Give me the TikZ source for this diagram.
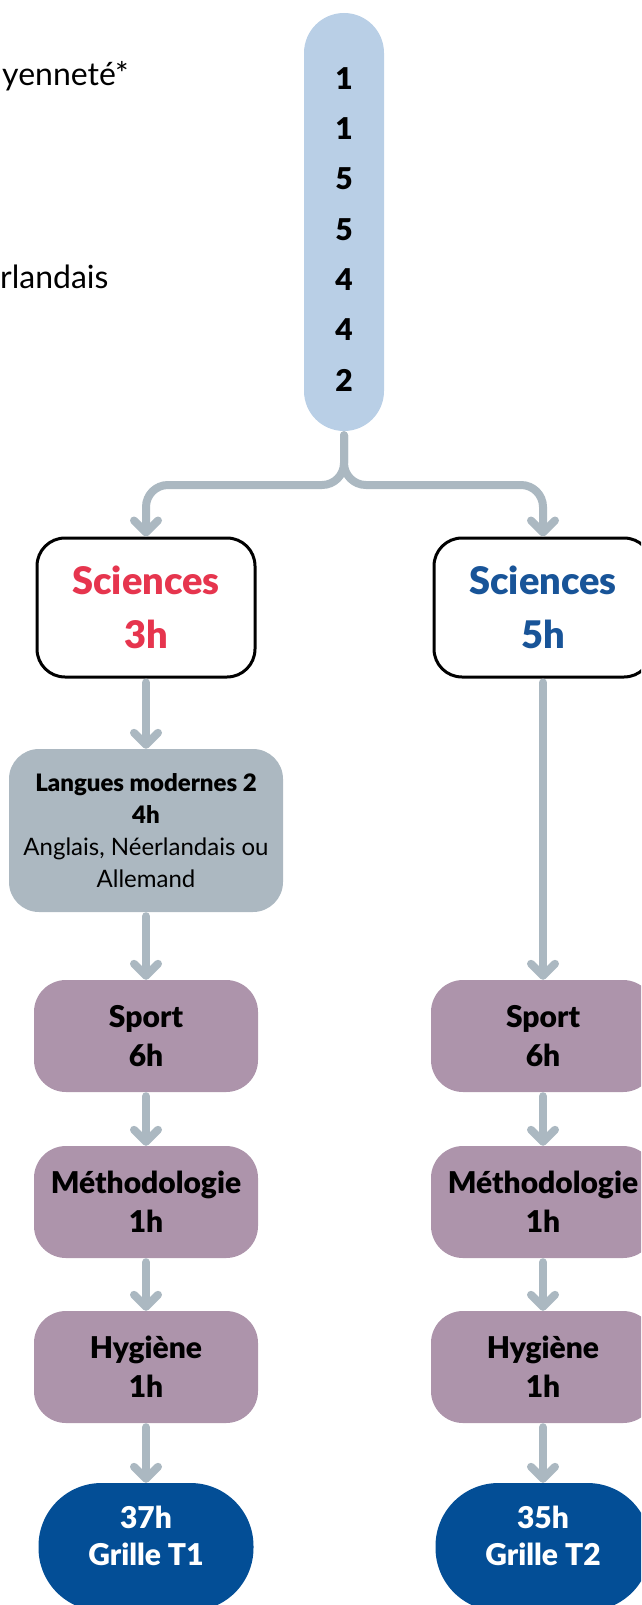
\documentclass[tikz,border=0pt]{standalone}
\usepackage{fontspec}
\setmainfont{Lato}[BoldFont={Lato Black}]
\usetikzlibrary{arrows.meta}
\definecolor{pill}{RGB}{185,207,230}
\definecolor{flowgray}{RGB}{171,184,193}
\definecolor{scired}{RGB}{230,53,78}
\definecolor{sciblue}{RGB}{24,84,152}
\definecolor{langgray}{RGB}{172,184,193}
\definecolor{mauve}{RGB}{173,148,171}
\definecolor{navy}{RGB}{3,78,150}
\tikzset{
  flow/.style={draw=flowgray, line width=8pt, line cap=round, shorten <=4pt,
    -{Straight Barb[length=12pt,width=24pt,round]}},
  scibox/.style={draw=black, line width=3pt, fill=white, rounded corners=28pt,
    minimum width=218pt, minimum height=139pt, align=center,
    font=\fontsize{38}{54}\selectfont\bfseries},
  langbox/.style={fill=langgray, rounded corners=30pt, minimum width=274pt,
    minimum height=163pt, align=center, font=\fontsize{24}{32}\selectfont},
  subj/.style={fill=mauve, rounded corners=32pt, minimum width=224pt,
    minimum height=112pt, align=center, font=\fontsize{30}{39}\selectfont\bfseries},
  total/.style={fill=navy, text=white, rounded corners=63pt, minimum width=215pt,
    minimum height=128pt, align=center, text depth=22pt,
    font=\fontsize{30}{37}\selectfont\bfseries},
  num/.style={font=\fontsize{30}{30}\selectfont\bfseries, inner sep=0pt},
  side/.style={font=\fontsize{32}{32}\selectfont, inner sep=0pt, anchor=base west}
}
\begin{document}
\begin{tikzpicture}[x=1pt,y=-1pt] % grilles T1 / T2
  \useasboundingbox (0,0) rectangle (641,1605);
  \clip (0,0) rectangle (641,1605);
  \node[side] (philo) at (2,86) {yenneté*};
  \node[side] (neer) at (0,288) {rlandais};
  \node[fill=pill, rounded corners=40pt, minimum width=80pt, minimum height=418pt] (grid) at (344,222) {};
  \foreach \n [count=\i] in {1,1,5,5,4,4,2}
    \node[num] (n\i) at (344,{28+50.3*\i}) {\n};
  \node[scibox, text=scired] (sciL) at (146,607.5) {Sciences\\3h};
  \node[scibox, text=sciblue] (sciR) at (543,607.5) {Sciences\\5h};
  \node[langbox] (lang) at (146,830.5) {\textbf{Langues modernes 2}\\\textbf{4h}\\Anglais, Néerlandais ou\\Allemand};
  \node[subj] (sportL) at (146,1036) {Sport\\6h};
  \node[subj] (methL) at (146,1202) {Méthodologie\\1h};
  \node[subj] (hygL) at (146,1367) {Hygiène\\1h};
  \node[total] (totL) at (146,1547) {37h\\Grille T1};
  \node[subj] (sportR) at (543,1036) {Sport\\6h};
  \node[subj] (methR) at (543,1202) {Méthodologie\\1h};
  \node[subj] (hygR) at (543,1367) {Hygiène\\1h};
  \node[total] (totR) at (543,1547) {35h\\Grille T2};
  \coordinate (split) at (344,485);
  \draw[flow, rounded corners=22pt] (grid.south) -- (split) -| (sciL.north);
  \draw[flow, rounded corners=22pt] (grid.south) -- (split) -| (sciR.north);
  \foreach \a/\b in {sciL/lang, lang/sportL, sportL/methL, methL/hygL, hygL/totL,
                     sciR/sportR, sportR/methR, methR/hygR, hygR/totR}
    \draw[flow] (\a.south) -- (\b.north);
\end{tikzpicture}
\end{document}
